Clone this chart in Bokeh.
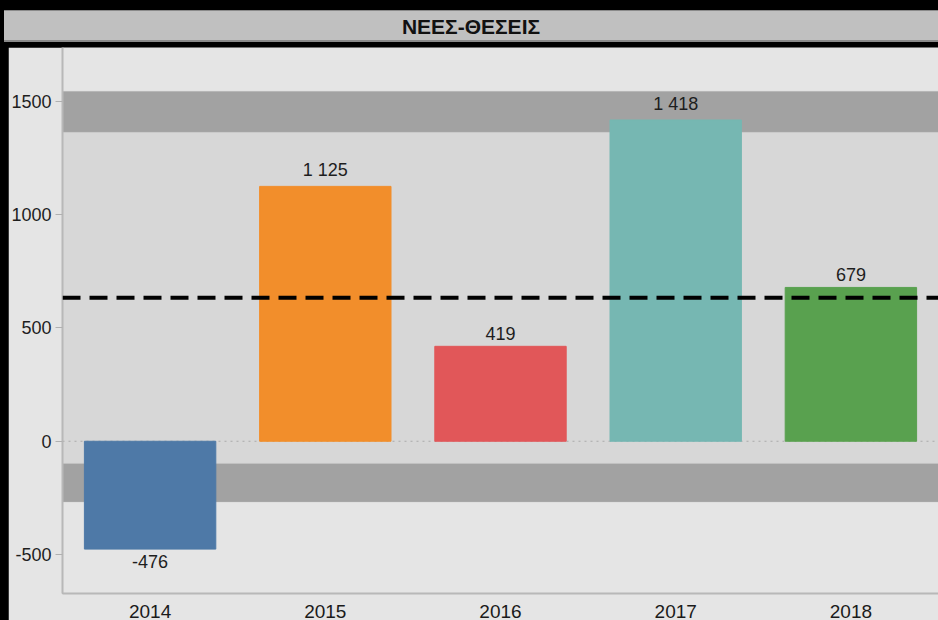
from bokeh.plotting import figure
from bokeh.models import (Range1d, FixedTicker, BoxAnnotation, Span, Div,
                          ColumnDataSource, GlobalInlineStyleSheet)
from bokeh.layouts import column
from bokeh.core.properties import value
from bokeh.embed import file_html
from bokeh.resources import INLINE

# ---- data -------------------------------------------------------------
title_text = "ΝΕΕΣ-ΘΕΣΕΙΣ"
years = ["2014", "2015", "2016", "2017", "2018"]
values = [-476, 1125, 419, 1418, 679]
colors = ["#4e79a7", "#f28e2b", "#e15759", "#76b7b2", "#59a14f"]
y_ticks = [-500, 0, 500, 1000, 1500]
y_tick_labels = ["-500", "0", "500", "1000", "1500"]
inner_band = (-98, 1364)          # light band
upper_band = (1364, 1545)         # dark band above
lower_band = (-268, -98)          # dark band below
mean_value = sum(values) / len(values)

labels = [f"{v:,}".replace(",", " ") for v in values]
pos_labels = [l if v >= 0 else "" for v, l in zip(values, labels)]
neg_labels = [l if v < 0 else "" for v, l in zip(values, labels)]

src = ColumnDataSource(dict(x=years, top=values, color=colors,
                            pos=pos_labels, neg=neg_labels))

FONT = "Liberation Sans"

p = figure(x_range=years, y_range=Range1d(-672, 1738),
           width=930, height=573, output_backend="svg", toolbar_location=None,
           min_border_left=54, min_border_right=0, min_border_top=0,
           min_border_bottom=27, margin=(0, 0, 0, 8),
           background_fill_color="#e5e5e5", border_fill_color="#e5e5e5",
           outline_line_color=None)
p.xgrid.visible = False
p.ygrid.visible = False

# bands
p.add_layout(BoxAnnotation(bottom=inner_band[0], top=inner_band[1],
                           fill_color="#d7d7d7", fill_alpha=1,
                           line_color=None, level="underlay"))
for lo, hi in (upper_band, lower_band):
    p.add_layout(BoxAnnotation(bottom=lo, top=hi, fill_color="#a2a2a2",
                               fill_alpha=1, line_color="#c4c4c4",
                               line_width=1, level="underlay"))
p.add_layout(Span(location=0, dimension="width", line_color="#aaaaaa",
                  line_dash="dotted", line_width=1, level="underlay"))

# bars
p.vbar(x="x", top="top", width=0.75, color="color", source=src)

# labels
p.text(x="x", y="top", text="pos", source=src, text_align="center",
       text_baseline="bottom", y_offset=-6, text_font=value(FONT),
       text_font_size="18px", text_color="#1e1e1e")
p.text(x="x", y="top", text="neg", source=src, text_align="center",
       text_baseline="top", y_offset=6, text_font=value(FONT),
       text_font_size="18px", text_color="#1e1e1e")

# mean line
p.add_layout(Span(location=mean_value, dimension="width", line_color="black",
                  line_dash="18 9", line_width=4))

# axes
p.yaxis.ticker = FixedTicker(ticks=y_ticks)
p.yaxis.major_label_overrides = dict(zip(y_ticks, y_tick_labels))
p.yaxis.minor_tick_line_color = None
p.yaxis.major_tick_in = 0
p.yaxis.major_tick_out = 7
p.yaxis.major_tick_line_color = "#b0b0b0"
p.yaxis.axis_line_color = "#b8b8b8"
p.yaxis.axis_line_width = 2
p.yaxis.major_label_standoff = 4
p.yaxis.major_label_text_font = FONT
p.yaxis.major_label_text_font_size = "18px"
p.yaxis.major_label_text_color = "#1e1e1e"

p.xaxis.major_tick_line_color = None
p.xaxis.axis_line_color = "#b8b8b8"
p.xaxis.axis_line_width = 2
p.xaxis.major_label_standoff = 5
p.xaxis.major_label_text_font = FONT
p.xaxis.major_label_text_font_size = "19px"
p.xaxis.major_label_text_color = "#1a1a1a"

title = Div(text=title_text, width=934, height=32, margin=(10, 0, 5, 4),
            styles={"background-color": "#c0c0c0",
                    "text-align": "center",
                    "font-family": "'Liberation Sans', Arial, sans-serif",
                    "font-weight": "bold",
                    "font-size": "21px",
                    "line-height": "31px",
                    "color": "#111111",
                    "border-top": "1px solid #8a8a8a",
                    "border-bottom": "2px solid #8a8a8a",
                    "box-sizing": "border-box"})

layout = column(title, p, spacing=0,
                styles={"background-color": "#000000"},
                stylesheets=[GlobalInlineStyleSheet(
                    css="html, body { background-color: #000000; }")])

open("out.html", "w").write(file_html(layout, INLINE))
